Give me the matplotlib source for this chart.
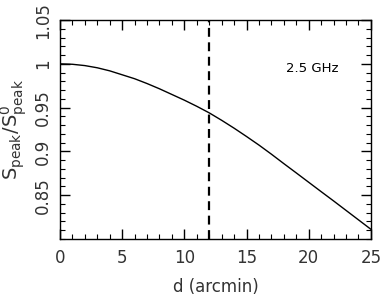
import matplotlib
matplotlib.use("Agg")
import matplotlib.pyplot as plt
from matplotlib.ticker import MultipleLocator

# values
d = [0, 1, 2, 3, 4, 5, 6, 7, 8, 9, 10, 11, 12, 13, 14, 15, 16, 17, 18, 19, 20,
     21, 22, 23, 24, 25]
ratio = [1.0, 0.9995, 0.998, 0.9955, 0.992, 0.9875, 0.983, 0.9775, 0.9715,
         0.965, 0.9585, 0.9515, 0.944, 0.9355, 0.9265, 0.917, 0.9072, 0.8968,
         0.886, 0.8754, 0.8647, 0.854, 0.8434, 0.8326, 0.8218, 0.811]
d_mark = 12
freq_label = "2.5 GHz"

plt.rcParams['mathtext.default'] = 'regular'

fig = plt.figure(figsize=(3.82, 3.04), dpi=100)
ax = fig.add_axes([0.157, 0.214, 0.814, 0.72])

ax.plot(d, ratio, color='k', lw=1.0)
ax.axvline(d_mark, color='k', lw=1.6, dashes=(4, 2.5))

ax.set_xlim(0, 25)
ax.set_ylim(0.8, 1.05)
ax.xaxis.set_minor_locator(MultipleLocator(1))
ax.yaxis.set_minor_locator(MultipleLocator(0.01))
ax.set_yticks([0.85, 0.9, 0.95, 1.0, 1.05])
ax.set_yticklabels(['0.85', '0.9', '0.95', '1', '1.05'])
ax.set_xticks([0, 5, 10, 15, 20, 25])
ax.set_xticklabels(['0', '5', '10', '15', '20', '25'])

ax.tick_params(which='both', direction='in', top=True, right=True, colors='k',
               labelcolor='#333333', labelsize=12)
ax.tick_params(which='major', length=7, width=1)
ax.tick_params(which='minor', length=3.5, width=0.8)
ax.tick_params(axis='x', pad=7)
ax.tick_params(axis='y', pad=6, labelrotation=90)
for lab in ax.get_yticklabels():
    lab.set_va('center')

for s in ax.spines.values():
    s.set_linewidth(1.0)

ax.set_xlabel('d (arcmin)', fontsize=12, color='#333333', labelpad=8)
ax.set_ylabel(r'S$_{peak}$/S$^{0}_{peak}$', fontsize=14, color='#333333', labelpad=3)

ax.text(0.81, 0.78, freq_label, transform=ax.transAxes, fontsize=9.5,
        ha='center', va='center', color='k')

fig.savefig('out.png', dpi=100)
